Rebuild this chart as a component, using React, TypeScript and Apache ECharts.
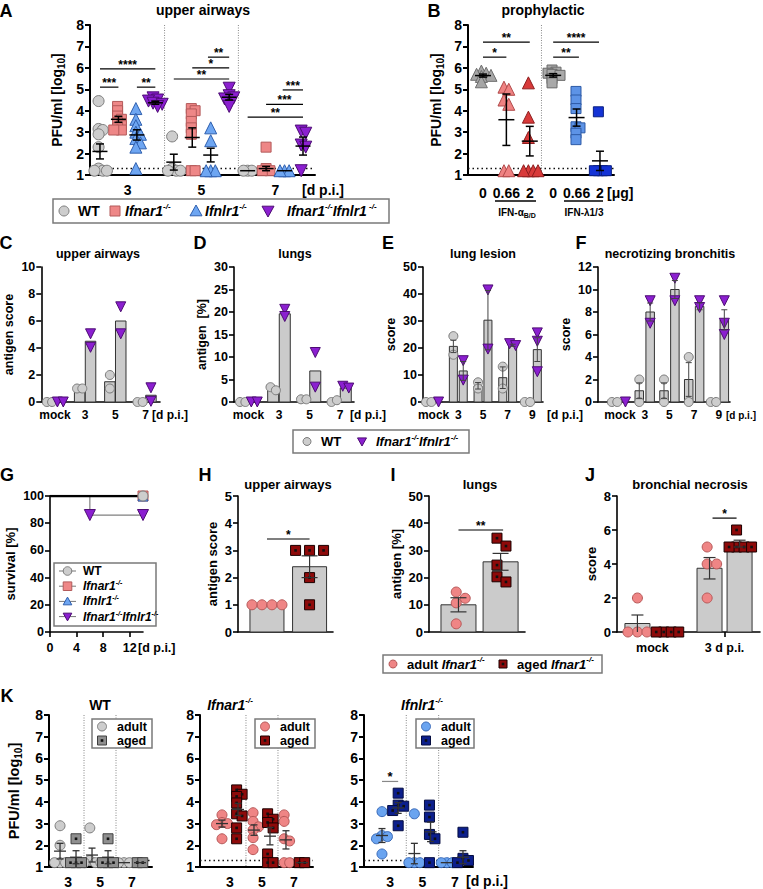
import { useEffect, useRef } from 'react';
import * as echarts from 'echarts';

const FF = '"Liberation Sans", Arial, Helvetica, sans-serif';
const LOD = 1.3;

// ===== A: upper airways =====
const A_DAY_LABELS = ['3', '5', '7'];
const A_WT = [[4.45, 3.15, 3.1, 2.9, 2.3, 1.3, 1.2, 1.2, 1.2], [2.8, 1.3, 1.2, 1.2, 1.2], [1.2, 1.2, 1.2]];
const A_WT_MEAN = [2.1, 1.6, 1.2];
const A_WT_SEM = [0.35, 0.37, 0];
const A_IFNAR = [[4.2, 4.0, 3.75, 3.6, 3.45, 3.3, 3.2, 3.1, 3.1], [4.1, 4.0, 3.85, 3.5, 3.2, 2.9, 1.2, 1.2], [2.3, 1.3, 1.2, 1.2]];
const A_IFNAR_MEAN = [3.6, 2.75, 1.3];
const A_IFNAR_SEM = [0.14, 0.45, 0.1];
const A_IFNLR = [[4.1, 3.6, 3.3, 3.0, 2.9, 2.7, 2.5, 2.3, 1.3], [3.2, 2.6, 1.2, 1.2, 1.2], [1.2, 1.2, 1.2]];
const A_IFNLR_MEAN = [2.87, 1.93, 1.2];
const A_IFNLR_SEM = [0.24, 0.32, 0];
const A_DKO = [[4.6, 4.5, 4.45, 4.35, 4.3, 4.2], [5.05, 4.7, 4.6, 4.55, 4.2], [3.05, 2.95, 2.4, 2.3, 1.2]];
const A_DKO_MEAN = [4.37, 4.63, 2.35];
const A_DKO_SEM = [0.07, 0.13, 0.42];
const A_SIG_LABELS = ['****', '***', '**', '**', '*', '**', '**', '***', '***'];
const A_SIG_FROM = [0, 0, 2, 4, 5, 5.85, 8, 9, 9.9];
const A_SIG_TO = [3, 1, 3, 7, 7, 7, 11, 11, 11];
const A_SIG_Y = [5.95, 5.1, 5.1, 5.48, 6.0, 6.5, 3.7, 4.3, 4.97];

// ===== B: prophylactic =====
const B_LABELS = ['0', '0.66', '2', '0', '0.66', '2'];
const B_VALUES = [
  [5.85, 5.75, 5.7, 5.65, 5.6, 5.35],
  [5.1, 5.0, 4.5, 4.3, 1.2, 1.2],
  [5.3, 3.7, 2.75, 1.2, 1.2, 1.2, 1.2],
  [5.9, 5.8, 5.75, 5.7, 5.65, 5.5, 5.3],
  [4.9, 4.5, 4.1, 3.25, 3.2, 2.95, 2.65],
  [3.95, 1.2, 1.2, 1.2, 1.2],
];
const B_MEAN = [5.64, 3.58, 2.58, 5.65, 3.68, 1.66];
const B_SEM = [0.07, 1.2, 0.69, 0.08, 0.4, 0.45];
const B_SIG_LABELS = ['**', '*', '****', '**'];
const B_SIG_FROM = [0, 0, 3, 3];
const B_SIG_TO = [2, 1, 4.96, 4.1];
const B_SIG_Y = [7.2, 6.5, 7.2, 6.5];

// ===== C-F histology =====
const CD_LABELS = ['mock', '3', '5', '7'];
const EF_LABELS = ['mock', '3', '5', '7', '9'];
const C_WT = [[0, 0], [1, 1], [2, 1], [0, 0]];
const C_WT_BAR = [0, 1, 1.5, 0];
const C_DKO = [[0, 0], [5.05, 4.05], [7.05, 5.05], [1.05, 0.05]];
const C_DKO_BAR = [0, 4.5, 6, 0.5];
const D_WT = [[0, 0], [3.3, 2.6], [0.6, 0.6], [0, 0.4]];
const D_WT_BAR = [0, 2.9, 0.6, 0.2];
const D_DKO = [[0, 0], [20.6, 19], [11, 3.3], [3.5, 3.1]];
const D_DKO_BAR = [0, 19.6, 6.9, 3.1];
const E_WT = [[0, 0], [24.4, 17.5], [7.3, 5], [13.1, 5], [0, 0]];
const E_WT_BAR = [0, 20.6, 6, 9, 0];
const E_WT_SEM = [0, 2.3, 1.2, 4, 0];
const E_DKO = [[0], [15.3, 8.1], [41.5, 19.6], [21.6, 20.9], [25.6, 22.5, 11.2]];
const E_DKO_BAR = [0, 11.5, 30.3, 21, 19.4];
const E_DKO_SEM = [0, 3.5, 11, 0.4, 4.4];
const F_WT = [[0, 0], [2, 0], [2, 0], [4, 0], [0, 0]];
const F_WT_BAR = [0, 1, 1, 2, 0];
const F_WT_SEM = [0, 0.7, 0.7, 1.5, 0];
const F_DKO = [[0], [9, 7], [11, 9], [9, 8.4], [9, 7, 6]];
const F_DKO_BAR = [0, 8, 10, 8.5, 7.3];
const F_DKO_SEM = [0, 0.8, 0.8, 0.3, 0.9];

// ===== G survival =====
const G_WT = [[0, 100], [14, 100]];
const G_DKO = [[0, 100], [6, 86], [14, 86]];
const G_DKO_MARKS = [[6, 86], [14, 86]];
const G_END = [[14, 100]];

// ===== H-J aged =====
const H_ADULT = [1, 1, 1, 1];
const H_AGED = [3, 3, 3, 2, 1];
const H_BAR = [1, 2.4];
const H_SEM = [0, 0.4];
const I_ADULT = [14.7, 12.4, 10.7, 3];
const I_AGED = [34.5, 31.6, 24.6, 20.3, 18.4];
const I_BAR = [10, 25.8];
const I_SEM = [2.6, 3.1];
const J_LABELS = ['mock', '3 d p.i.'];
const J_ADULT = [[2, 0, 0, 0], [5, 4, 4, 2]];
const J_AGED = [[0, 0, 0, 0], [6, 5, 5, 5, 5]];
const J_ADULT_BAR = [0.5, 3.75];
const J_ADULT_SEM = [0.5, 0.63];
const J_AGED_BAR = [0, 5.2];
const J_AGED_SEM = [0, 0.2];

// ===== K =====
const K_DAY_LABELS = ['3', '5', '7'];
const K_WT_ADULT = [[2.9, 2.0, 1.2, 1.2, 1.2], [2.8, 1.3, 1.2, 1.2, 1.2], [1.2, 1.2, 1.2]];
const K_WT_ADULT_MEAN = [1.73, 1.55, 1.2];
const K_WT_ADULT_SEM = [0.36, 0.32, 0];
const K_WT_AGED = [[2.3, 1.2, 1.2, 1.2], [2.3, 1.2, 1.2, 1.2], [1.2, 1.2]];
const K_WT_AGED_MEAN = [1.45, 1.45, 1.2];
const K_WT_AGED_SEM = [0.3, 0.3, 0];
const K_IFNAR_ADULT = [[3.4, 3.05, 3.0, 2.95, 2.3], [3.5, 3.1, 2.85, 2.7, 2.35, 1.8], [3.4, 3.1, 2.3, 2.2, 1.2, 1.2]];
const K_IFNAR_ADULT_MEAN = [3.0, 2.7, 2.25];
const K_IFNAR_ADULT_SEM = [0.16, 0.24, 0.42];
const K_IFNAR_AGED = [[4.55, 4.35, 4.25, 3.95, 3.45, 3.35, 2.8, 2.3], [3.45, 3.2, 3.05, 2.8, 1.6, 1.2, 1.2], [1.2, 1.2]];
const K_IFNAR_AGED_MEAN = [3.65, 2.42, 1.2];
const K_IFNAR_AGED_SEM = [0.28, 0.4, 0];
const K_IFNLR_ADULT = [[3.55, 2.45, 2.4, 2.3, 1.6], [3.45, 1.2, 1.2, 1.2], [1.2, 1.2, 1.2]];
const K_IFNLR_ADULT_MEAN = [2.45, 1.62, 1.2];
const K_IFNLR_ADULT_SEM = [0.32, 0.47, 0];
const K_IFNLR_AGED = [[4.4, 3.85, 3.8, 3.6, 2.9], [3.85, 3.3, 2.5, 2.3, 1.2], [2.6, 1.4, 1.3, 1.2]];
const K_IFNLR_AGED_MEAN = [3.72, 2.62, 1.45];
const K_IFNLR_AGED_SEM = [0.25, 0.45, 0.3];
const K_SIG_LABELS = ['*'];
const K_SIG_FROM = [0];
const K_SIG_TO = [1];
const K_SIG_Y = [4.94];

// ===== styles =====
const S_WT = { symbol: 'circle', fill: '#cdcdcd', stroke: '#7c7c7c' };
const S_IFNAR = { symbol: 'rect', fill: '#ee8787', stroke: '#b35a5a' };
const S_IFNLR = { symbol: 'triangle', fill: '#6ea6f2', stroke: '#2f5fae' };
const S_DKO = { symbol: 'triangle', rot: 180, fill: '#8b1fd0', stroke: '#4d0c73' };
const B_STYLES = [
  { symbol: 'triangle', fill: '#a6a6a6', stroke: '#6e6e6e' },
  { symbol: 'triangle', fill: '#ef8282', stroke: '#b04848' },
  { symbol: 'triangle', fill: '#d83a3a', stroke: '#8e1e1e' },
  { symbol: 'rect', fill: '#a9a9a9', stroke: '#6a6a6a' },
  { symbol: 'rect', fill: '#5d93e6', stroke: '#2d5aa6' },
  { symbol: 'rect', fill: '#1433d6', stroke: '#0a1f80' },
];
const S_ADULT = { symbol: 'circle', fill: '#ef8585', stroke: '#b65858' };
const S_AGED = { symbol: 'rect', fill: '#8e0a0a', stroke: '#1a0000', dot: true };
const S_KWT_AGED = { symbol: 'rect', fill: '#8f8f8f', stroke: '#404040', dot: true };
const S_KLR_ADULT = { symbol: 'circle', fill: '#6aa4f0', stroke: '#3a6ab8' };
const S_KLR_AGED = { symbol: 'rect', fill: '#0c1f8c', stroke: '#050d40', dot: true };

function buildOption() {
  const grid: any[] = [];
  const xAxis: any[] = [];
  const yAxis: any[] = [];
  const series: any[] = [];
  const graphic: any[] = [];

  const richSet = (fs: number, lh?: number) => ({
    g: { fontStyle: 'italic', fontWeight: 'bold', fontSize: fs, fontFamily: FF, fill: '#000', color: '#000', lineHeight: lh || fs + 4 },
    s: { fontStyle: 'italic', fontWeight: 'bold', fontSize: Math.round(fs * 0.6), fontFamily: FF, fill: '#000', color: '#000', verticalAlign: 'top', lineHeight: Math.round(fs * 0.6) + 1 },
    n: { fontWeight: 'bold', fontSize: fs, fontFamily: FF, fill: '#000', color: '#000', lineHeight: lh || fs + 4 },
    sub: { fontWeight: 'bold', fontSize: Math.round(fs * 0.68), fontFamily: FF, fill: '#000', color: '#000', verticalAlign: 'bottom', lineHeight: Math.round(fs * 0.68) },
  });

  const txt = (x: number, y: number, text: string, fs: number, align = 'left', lh?: number) => ({
    type: 'text', x, y, silent: true, z: 50,
    style: { text, fontSize: fs, fontWeight: 'bold', fontFamily: FF, fill: '#000', align, verticalAlign: 'middle', lineHeight: lh || fs + 4, rich: richSet(fs, lh) },
  });

  function addPanel(o: any) {
    const i = grid.length;
    const [left, top, width, height] = o.box;
    grid.push({ left, top, width, height, containLabel: false });
    const line = { show: true, onZero: false, lineStyle: { color: '#000', width: o.lw } };
    const xa: any = {
      type: 'value', gridIndex: i, min: o.xmin, max: o.xmax, axisLine: line, splitLine: { show: false },
      axisLabel: { show: !o.noXLabels, color: '#000', fontFamily: FF, fontWeight: 'bold', fontSize: o.xfs || 12, margin: o.xmargin || 8 },
      axisTick: { show: false },
    };
    if (o.xvals) {
      const vals = o.xvals;
      const labs = o.xlabels;
      xa.axisLabel.customValues = vals;
      xa.axisLabel.formatter = (v: number) => {
        const k = vals.findIndex((w: number) => Math.abs(w - v) < 1e-6);
        return k >= 0 ? labs[k] : '';
      };
      if (o.xticks) xa.axisTick = { show: true, customValues: o.xticks, length: 5, lineStyle: { color: '#000', width: o.lw } };
    } else if (o.xint) {
      xa.interval = o.xint;
      xa.axisTick = { show: true, length: 5, lineStyle: { color: '#000', width: o.lw } };
    } else {
      xa.axisLabel.show = false;
    }
    xAxis.push(xa);
    const nfs = o.nameFs || 13;
    yAxis.push({
      type: 'value', gridIndex: i, min: o.ymin, max: o.ymax, interval: o.yint, axisLine: line, splitLine: { show: false },
      axisTick: { show: true, length: 5, lineStyle: { color: '#000', width: o.lw } },
      axisLabel: { color: '#000', fontFamily: FF, fontWeight: 'bold', fontSize: o.yfs, margin: 6 },
      name: o.name || '', nameLocation: 'middle', nameRotate: 90, nameGap: o.nameGap || 20,
      nameTextStyle: { color: '#000', fontFamily: FF, fontWeight: 'bold', fontSize: nfs, lineHeight: nfs + 4, rich: richSet(nfs) },
    });
    return { i, ux: width / (o.xmax - o.xmin), uy: height / (o.ymax - o.ymin), ymin: o.ymin };
  }

  function swarm(vals: number[], center: number, p: any, size: number, spread: number) {
    const step = size * spread;
    const placed: number[][] = [];
    vals.forEach((v) => {
      const yp = v * p.uy;
      let off = 0;
      for (let k = 0; k < 40; k++) {
        const o = k === 0 ? 0 : (k % 2 === 1 ? 1 : -1) * Math.ceil(k / 2) * step;
        if (placed.every(([px, py]) => Math.hypot(px - o, py - yp) >= step - 0.01)) { off = o; break; }
      }
      placed.push([off, yp]);
    });
    const mean = placed.reduce((a, b) => a + b[0], 0) / Math.max(1, placed.length);
    return placed.map(([o], k) => [center + (o - mean) / p.ux, vals[k]]);
  }

  function scat(p: any, pts: any[], st: any, size: number) {
    series.push({
      type: 'scatter', xAxisIndex: p.i, yAxisIndex: p.i, data: pts, symbol: st.symbol, symbolSize: size,
      symbolRotate: st.rot || 0, silent: true, z: 3,
      itemStyle: { color: st.fill, borderColor: st.stroke, borderWidth: 1, opacity: 1 },
    });
    if (st.dot) {
      series.push({
        type: 'scatter', xAxisIndex: p.i, yAxisIndex: p.i, data: pts, symbol: 'rect', symbolSize: 2.6, silent: true, z: 4,
        itemStyle: { color: '#111', opacity: 1 },
      });
    }
  }

  function errs(p: any, data: any[], mw: number, cw: number, col: string, lw: number) {
    series.push({
      type: 'custom', xAxisIndex: p.i, yAxisIndex: p.i, z: 6, silent: true, data,
      renderItem: (_params: any, api: any) => {
        const x = api.value(0), m = api.value(1), s = api.value(2);
        const c = api.coord([x, m]);
        const st = { stroke: col, lineWidth: lw };
        const ch: any[] = [];
        if (mw > 0) ch.push({ type: 'line', shape: { x1: c[0] - mw / 2, y1: c[1], x2: c[0] + mw / 2, y2: c[1] }, style: st });
        if (s > 0) {
          const t = api.coord([x, m + s]);
          const lo = Math.max(m - s, p.ymin);
          const b = api.coord([x, lo]);
          ch.push({ type: 'line', shape: { x1: c[0], y1: t[1], x2: c[0], y2: b[1] }, style: st });
          ch.push({ type: 'line', shape: { x1: c[0] - cw / 2, y1: t[1], x2: c[0] + cw / 2, y2: t[1] }, style: st });
          if (m - s > p.ymin + 0.01) ch.push({ type: 'line', shape: { x1: c[0] - cw / 2, y1: b[1], x2: c[0] + cw / 2, y2: b[1] }, style: st });
        }
        return { type: 'group', children: ch };
      },
    });
  }

  function bars(p: any, data: any[], w: number) {
    series.push({
      type: 'custom', xAxisIndex: p.i, yAxisIndex: p.i, z: 2, silent: true, data,
      renderItem: (_params: any, api: any) => {
        const x = api.value(0), v = api.value(1);
        const t = api.coord([x, v]);
        const b = api.coord([x, p.ymin]);
        return { type: 'rect', shape: { x: t[0] - w / 2, y: t[1], width: w, height: b[1] - t[1] }, style: { fill: '#cbcbcb', stroke: '#333', lineWidth: 1 } };
      },
    });
  }

  function sigs(p: any, from: number[], to: number[], ys: number[], labels: string[], fs: number, col = '#000') {
    const data = from.map((f, k) => [f, ys[k], to[k]]);
    series.push({
      type: 'custom', xAxisIndex: p.i, yAxisIndex: p.i, z: 7, silent: true, data,
      renderItem: (params: any, api: any) => {
        const a = api.coord([api.value(0), api.value(1)]);
        const b = api.coord([api.value(2), api.value(1)]);
        return {
          type: 'group', children: [
            { type: 'line', shape: { x1: a[0], y1: a[1], x2: b[0], y2: b[1] }, style: { stroke: col, lineWidth: 1.2 } },
            { type: 'text', style: { text: labels[params.dataIndex], x: (a[0] + b[0]) / 2, y: a[1] + 2, align: 'center', verticalAlign: 'bottom', fontSize: fs, fontWeight: 'bold', fontFamily: FF, fill: '#000' } },
          ],
        };
      },
    });
  }

  function refs(p: any, hs: number[], vs: number[], xmid: number, ymid: number) {
    const data = [...hs.map((v) => [xmid, v, 0]), ...vs.map((v) => [v, ymid, 1])];
    series.push({
      type: 'custom', xAxisIndex: p.i, yAxisIndex: p.i, z: 1, silent: true, data,
      renderItem: (params: any, api: any) => {
        const cs = params.coordSys;
        const c = api.coord([api.value(0), api.value(1)]);
        if (api.value(2) === 0) {
          return { type: 'line', shape: { x1: cs.x, y1: c[1], x2: cs.x + cs.width, y2: c[1] }, style: { stroke: '#111', lineWidth: 1.5, lineDash: [1.5, 3] } };
        }
        return { type: 'line', shape: { x1: c[0], y1: cs.y, x2: c[0], y2: cs.y + cs.height }, style: { stroke: '#888', lineWidth: 1, lineDash: [1, 1.5] } };
      },
    });
  }

  function lsym(kind: string, cx: number, cy: number, r: number, fill: string, stroke: string, dot = false) {
    const style = { fill, stroke, lineWidth: 1 };
    const out: any[] = [];
    if (kind === 'circle') out.push({ type: 'circle', shape: { cx, cy, r }, style });
    else if (kind === 'rect') out.push({ type: 'rect', shape: { x: cx - r, y: cy - r, width: 2 * r, height: 2 * r }, style });
    else if (kind === 'triangle') out.push({ type: 'polygon', shape: { points: [[cx, cy - r], [cx + r, cy + r * 0.8], [cx - r, cy + r * 0.8]] }, style });
    else out.push({ type: 'polygon', shape: { points: [[cx - r, cy - r * 0.8], [cx + r, cy - r * 0.8], [cx, cy + r]] }, style });
    if (dot) out.push({ type: 'rect', shape: { x: cx - 1.3, y: cy - 1.3, width: 2.6, height: 2.6 }, style: { fill: '#111' } });
    out.forEach((e) => { e.z = 51; e.silent = true; });
    return out;
  }
  const box = (x: number, y: number, w: number, h: number) => ({ type: 'rect', z: 49, silent: true, shape: { x, y, width: w, height: h }, style: { fill: '#fff', stroke: '#7a7a7a', lineWidth: 1.5 } });
  const symOf = (st: any) => (st.rot ? 'dtri' : st.symbol);

  // ================= Panel A =================
  const pA = addPanel({ box: [90, 25, 225, 150], xmin: -0.54, xmax: 11.65, xvals: [1.5, 5.5, 9.5], xlabels: A_DAY_LABELS, xfs: 14, xmargin: 8, ymin: 1, ymax: 8, yint: 1, yfs: 14, name: 'PFU/ml [log{sub|10}]', nameGap: 24, nameFs: 14, lw: 2 });
  refs(pA, [LOD], [3.5, 7.5], 5, 4.5);
  const aSets: any[] = [
    [A_WT, A_WT_MEAN, A_WT_SEM, S_WT, 11],
    [A_IFNAR, A_IFNAR_MEAN, A_IFNAR_SEM, S_IFNAR, 10],
    [A_IFNLR, A_IFNLR_MEAN, A_IFNLR_SEM, S_IFNLR, 12],
    [A_DKO, A_DKO_MEAN, A_DKO_SEM, S_DKO, 12],
  ];
  aSets.forEach(([vals, mean, sem, st, sz], s) => {
    const pts: any[] = [];
    const eb: any[] = [];
    vals.forEach((v: number[], d: number) => {
      const cx = d * 4 + s;
      pts.push(...swarm(v, cx, pA, sz, 0.38));
      eb.push([cx, mean[d], sem[d]]);
    });
    scat(pA, pts, st, sz);
    errs(pA, eb, 15, 8, '#000', 1.5);
  });
  sigs(pA, A_SIG_FROM, A_SIG_TO, A_SIG_Y, A_SIG_LABELS, 12);
  graphic.push(txt(6, 11, 'A', 18, 'center'));
  graphic.push(txt(203, 10, 'upper airways', 14, 'center'));
  graphic.push(txt(302, 190, '[d p.i.]', 14));
  graphic.push(box(53, 199, 336, 24));
  graphic.push(...lsym('circle', 64, 211, 5, S_WT.fill, S_WT.stroke));
  graphic.push(txt(78, 211, 'WT', 14));
  graphic.push(...lsym('rect', 115, 211, 5, S_IFNAR.fill, S_IFNAR.stroke));
  graphic.push(txt(125, 211, '{g|Ifnar1}{s|-/-}', 14));
  graphic.push(...lsym('triangle', 196, 211, 6, S_IFNLR.fill, S_IFNLR.stroke));
  graphic.push(txt(205, 211, '{g|Ifnlr1}{s|-/-}', 14));
  graphic.push(...lsym('dtri', 268, 211, 6, S_DKO.fill, S_DKO.stroke));
  graphic.push(txt(287, 211, '{g|Ifnar1}{s|-/-}{g|Ifnlr1}{s| -/-}', 14));

  // ================= Panel B =================
  const pB = addPanel({ box: [468, 25, 146, 150], xmin: -0.64, xmax: 5.6, xvals: [0, 1, 2, 3, 4, 5], xlabels: B_LABELS, xfs: 14, xmargin: 11, ymin: 1, ymax: 8, yint: 1, yfs: 14, name: 'PFU/ml [log{sub|10}]', nameGap: 23, nameFs: 14, lw: 2 });
  refs(pB, [LOD], [2.5], 2.5, 4.5);
  B_VALUES.forEach((vals, k) => {
    const st = B_STYLES[k];
    const sz = st.symbol === 'rect' ? 10 : 12;
    scat(pB, swarm(vals, k, pB, sz, 0.4), st, sz);
  });
  errs(pB, B_MEAN.map((m, k) => [k, m, B_SEM[k]]), 16, 8, '#000', 1.5);
  sigs(pB, B_SIG_FROM, B_SIG_TO, B_SIG_Y, B_SIG_LABELS, 12);
  graphic.push(txt(434, 11, 'B', 18, 'center'));
  graphic.push(txt(543, 10, 'prophylactic', 14, 'center'));
  graphic.push(txt(607, 193, '[μg]', 14));
  graphic.push({ type: 'line', z: 50, silent: true, shape: { x1: 495, y1: 201, x2: 536, y2: 201 }, style: { stroke: '#000', lineWidth: 1.3 } });
  graphic.push({ type: 'line', z: 50, silent: true, shape: { x1: 564, y1: 201, x2: 603, y2: 201 }, style: { stroke: '#000', lineWidth: 1.3 } });
  graphic.push(txt(517, 212, 'IFN-α{sub|B/D}', 10, 'center'));
  graphic.push(txt(584, 212, 'IFN-λ1/3', 10, 'center'));

  // ================= Panels C-F =================
  function histPanel(p: any, wt: number[][], wtBar: number[], wtSem: number[] | null, dko: number[][], dkoBar: number[], dkoSem: number[] | null, off: number, bw: number) {
    const bd: any[] = [];
    wtBar.forEach((v, d) => bd.push([d - off, v]));
    dkoBar.forEach((v, d) => bd.push([d + off, v]));
    bars(p, bd, bw);
    const wp: any[] = [];
    const dp: any[] = [];
    wt.forEach((v, d) => wp.push(...swarm(v, d - off, p, 9, 0.6)));
    dko.forEach((v, d) => dp.push(...swarm(v, d + off, p, 10, 0.6)));
    scat(p, wp, S_WT, 9);
    scat(p, dp, S_DKO, 10);
    if (wtSem) errs(p, wtBar.map((m, d) => [d - off, m, wtSem[d]]), 0, 6, '#444', 1);
    if (dkoSem) errs(p, dkoBar.map((m, d) => [d + off, m, dkoSem[d]]), 0, 6, '#444', 1);
  }
  const pC = addPanel({ box: [38, 267, 122, 135], xmin: -0.45, xmax: 3.48, xvals: [0, 1, 2, 3], xlabels: CD_LABELS, xfs: 12, xmargin: 7, ymin: 0, ymax: 10, yint: 2, yfs: 12.5, name: 'antigen score', nameGap: 23, nameFs: 12.5, lw: 1.6 });
  histPanel(pC, C_WT, C_WT_BAR, null, C_DKO, C_DKO_BAR, null, 0.18, 10.5);
  const pD = addPanel({ box: [234, 267, 120, 135], xmin: -0.475, xmax: 3.46, xvals: [0, 1, 2, 3], xlabels: CD_LABELS, xfs: 12, xmargin: 7, ymin: 0, ymax: 30, yint: 5, yfs: 12.5, name: 'antigen  [%]', nameGap: 21, nameFs: 12.5, lw: 1.6 });
  histPanel(pD, D_WT, D_WT_BAR, null, D_DKO, D_DKO_BAR, null, 0.19, 11);
  const pE = addPanel({ box: [423, 267, 120, 135], xmin: -0.43, xmax: 4.43, xvals: [0, 1, 2, 3, 4], xlabels: EF_LABELS, xfs: 12, xmargin: 7, ymin: 0, ymax: 50, yint: 10, yfs: 12.5, name: 'score', nameGap: 23, nameFs: 12.5, lw: 1.6 });
  histPanel(pE, E_WT, E_WT_BAR, E_WT_SEM, E_DKO, E_DKO_BAR, E_DKO_SEM, 0.2, 8);
  const pF = addPanel({ box: [598, 267, 132, 135], xmin: -0.89, xmax: 4.45, xvals: [0, 1, 2, 3, 4], xlabels: EF_LABELS, xfs: 12, xmargin: 7, ymin: 0, ymax: 12, yint: 2, yfs: 12.5, name: 'score', nameGap: 14, nameFs: 12.5, lw: 1.6 });
  histPanel(pF, F_WT, F_WT_BAR, F_WT_SEM, F_DKO, F_DKO_BAR, F_DKO_SEM, 0.22, 8.5);

  graphic.push(txt(6, 243, 'C', 18, 'center'));
  graphic.push(txt(98, 254, 'upper airways', 12.5, 'center'));
  graphic.push(txt(152, 415, '[d p.i.]', 12));
  graphic.push(txt(200, 243, 'D', 18, 'center'));
  graphic.push(txt(295, 254, 'lungs', 12.5, 'center'));
  graphic.push(txt(350, 415, '[d p.i.]', 12));
  graphic.push(txt(388, 243, 'E', 18, 'center'));
  graphic.push(txt(483, 254, 'lung lesion', 12.5, 'center'));
  graphic.push(txt(547, 415, '[d p.i.]', 12));
  graphic.push(txt(581, 243, 'F', 18, 'center'));
  graphic.push(txt(670, 254, 'necrotizing bronchitis', 12.5, 'center'));
  graphic.push(txt(726, 415, '[d p.i.]', 10));
  graphic.push(box(293, 430, 176, 23));
  graphic.push(...lsym('circle', 307, 441.5, 4, S_WT.fill, S_WT.stroke));
  graphic.push(txt(321, 441.5, 'WT', 13));
  graphic.push(...lsym('dtri', 362, 441.5, 4.5, S_DKO.fill, S_DKO.stroke));
  graphic.push(txt(376, 441.5, '{g|Ifnar1}{s|-/-}{g|Ifnlr1}{s|-/-}', 13));

  // ================= Panel G =================
  const pG = addPanel({ box: [50, 496, 93, 136], xmin: 0, xmax: 14, xint: 4, xfs: 12.5, xmargin: 9, ymin: 0, ymax: 100, yint: 20, yfs: 12.5, name: 'survival [%]', nameGap: 31, nameFs: 13, lw: 1.6 });
  series.push({ type: 'line', xAxisIndex: pG.i, yAxisIndex: pG.i, data: G_DKO, step: 'end', symbol: 'none', silent: true, z: 2, lineStyle: { color: '#808080', width: 1.2 } });
  series.push({ type: 'line', xAxisIndex: pG.i, yAxisIndex: pG.i, data: G_WT, symbol: 'none', silent: true, z: 3, lineStyle: { color: '#000', width: 2.5 } });
  scat(pG, G_END, S_IFNAR, 10);
  scat(pG, G_END, S_IFNLR, 10);
  scat(pG, G_END, S_WT, 10);
  scat(pG, G_DKO_MARKS, S_DKO, 11);
  graphic.push(txt(7, 475, 'G', 18, 'center'));
  graphic.push(box(54, 563, 102, 63));
  const gRows: any[] = [[S_WT, 'WT'], [S_IFNAR, '{g|Ifnar1}{s|-/-}'], [S_IFNLR, '{g|Ifnlr1}{s|-/-}'], [S_DKO, '{g|Ifnar1}{s|-/-}{g|Ifnlr1}{s|-/-}']];
  gRows.forEach(([st, label], k) => {
    const y = 571 + k * 15.2;
    graphic.push({ type: 'line', z: 50, silent: true, shape: { x1: 59, y1: y, x2: 76, y2: y }, style: { stroke: '#777', lineWidth: 1 } });
    graphic.push(...lsym(symOf(st), 67.5, y, 4.3, st.fill, st.stroke));
    graphic.push(txt(83, y, label, 12, 'left', 14));
  });
  graphic.push(txt(138, 648, '[d p.i.]', 12.5));

  // ================= Panel H =================
  const pH = addPanel({ box: [238, 496, 95, 136], xmin: -0.68, xmax: 1.55, noXLabels: true, ymin: 0, ymax: 5, yint: 1, yfs: 13, name: 'antigen score', nameGap: 13, nameFs: 13, lw: 1.6 });
  bars(pH, H_BAR.map((v, k) => [k, v]), 34);
  scat(pH, swarm(H_ADULT, 0, pH, 10, 1.0), S_ADULT, 10);
  scat(pH, swarm(H_AGED, 1, pH, 10, 1.4), S_AGED, 10);
  errs(pH, H_BAR.map((m, k) => [k, m, H_SEM[k]]), 0, 16, '#333', 1.2);
  sigs(pH, [0], [1], [3.42], ['*'], 12);
  graphic.push(txt(205, 475, 'H', 18, 'center'));
  graphic.push(txt(288, 484, 'upper airways', 13, 'center'));

  // ================= Panel I =================
  const pI = addPanel({ box: [429, 496, 96, 136], xmin: -0.7, xmax: 1.58, noXLabels: true, ymin: 0, ymax: 50, yint: 10, yfs: 13, name: 'antigen [%]', nameGap: 19, nameFs: 13, lw: 1.6 });
  bars(pI, I_BAR.map((v, k) => [k, v]), 35);
  scat(pI, swarm(I_ADULT, 0, pI, 10, 0.9), S_ADULT, 10);
  scat(pI, swarm(I_AGED, 1, pI, 10, 0.9), S_AGED, 10);
  errs(pI, I_BAR.map((m, k) => [k, m, I_SEM[k]]), 0, 16, '#333', 1.2);
  sigs(pI, [0], [1.06], [37.5], ['**'], 12);
  graphic.push(txt(393, 475, 'I', 18, 'center'));
  graphic.push(txt(480, 484, 'lungs', 13, 'center'));

  // ================= Panel J =================
  const pJ = addPanel({ box: [617, 496, 143, 136], xmin: -1.18, xmax: 3.58, xvals: [0, 2.4], xlabels: J_LABELS, xticks: [0, 2.4], xfs: 12.5, xmargin: 9, ymin: 0, ymax: 8, yint: 2, yfs: 13, name: 'score', nameGap: 15, nameFs: 13, lw: 1.6 });
  const jCenters = [0, 2.4];
  const jb: any[] = [];
  J_ADULT_BAR.forEach((v, g) => jb.push([jCenters[g] - 0.5, v]));
  J_AGED_BAR.forEach((v, g) => jb.push([jCenters[g] + 0.5, v]));
  bars(pJ, jb, 25);
  const ja: any[] = [];
  const jg: any[] = [];
  J_ADULT.forEach((v, g) => ja.push(...swarm(v, jCenters[g] - 0.5, pJ, 10, 0.95)));
  J_AGED.forEach((v, g) => jg.push(...swarm(v, jCenters[g] + 0.5, pJ, 10, 0.75)));
  scat(pJ, ja, S_ADULT, 10);
  scat(pJ, jg, S_AGED, 10);
  errs(pJ, J_ADULT_BAR.map((m, g) => [jCenters[g] - 0.5, m, J_ADULT_SEM[g]]), 0, 12, '#333', 1.2);
  errs(pJ, J_AGED_BAR.map((m, g) => [jCenters[g] + 0.5, m, J_AGED_SEM[g]]), 0, 12, '#333', 1.2);
  sigs(pJ, [2.0], [2.8], [6.7], ['*'], 12);
  graphic.push(txt(590, 475, 'J', 18, 'center'));
  graphic.push(txt(690, 484, 'bronchial necrosis', 13, 'center'));

  graphic.push(box(383, 655, 219, 18));
  graphic.push(...lsym('circle', 393, 664, 4, S_ADULT.fill, S_ADULT.stroke));
  graphic.push(txt(407, 664, 'adult {g|Ifnar1}{s|-/-}', 13));
  graphic.push(...lsym('rect', 503, 664, 4, S_AGED.fill, S_AGED.stroke, true));
  graphic.push(txt(517, 664, 'aged {g|Ifnar1}{s|-/-}', 13));

  // ================= Panel K =================
  const kDefs: any[] = [
    { box: [49, 715, 103, 152], xmin: -0.69, xmax: 5.75, name: 'PFU/ml [log{sub|10}]', adult: K_WT_ADULT, am: K_WT_ADULT_MEAN, as: K_WT_ADULT_SEM, aged: K_WT_AGED, gm: K_WT_AGED_MEAN, gs: K_WT_AGED_SEM, sa: S_WT, sg: S_KWT_AGED, title: 'WT', tx: 100, lg: [92, 152] },
    { box: [200, 715, 113, 152], xmin: -1.375, xmax: 5.69, name: '', adult: K_IFNAR_ADULT, am: K_IFNAR_ADULT_MEAN, as: K_IFNAR_ADULT_SEM, aged: K_IFNAR_AGED, gm: K_IFNAR_AGED_MEAN, gs: K_IFNAR_AGED_SEM, sa: S_ADULT, sg: S_AGED, title: '{g|Ifnar1}{s|-/-}', tx: 230, lg: [255, 315] },
    { box: [364, 715, 109, 152], xmin: -1.11, xmax: 5.62, name: '', adult: K_IFNLR_ADULT, am: K_IFNLR_ADULT_MEAN, as: K_IFNLR_ADULT_SEM, aged: K_IFNLR_AGED, gm: K_IFNLR_AGED_MEAN, gs: K_IFNLR_AGED_SEM, sa: S_KLR_ADULT, sg: S_KLR_AGED, title: '{g|Ifnlr1}{s|-/-}', tx: 422, lg: [416, 474] },
  ];
  kDefs.forEach((k, idx) => {
    const p = addPanel({ box: k.box, xmin: k.xmin, xmax: k.xmax, xvals: [0.5, 2.5, 4.5], xlabels: K_DAY_LABELS, xfs: 14, xmargin: 8, ymin: 1, ymax: 8, yint: 1, yfs: 14, name: k.name, nameGap: 26, nameFs: 14.5, lw: 2 });
    refs(p, [LOD], [1.5, 3.5], 2.5, 4.5);
    const ap: any[] = [];
    const gp: any[] = [];
    k.adult.forEach((v: number[], d: number) => ap.push(...swarm(v, d * 2, p, 10, 0.55)));
    k.aged.forEach((v: number[], d: number) => gp.push(...swarm(v, d * 2 + 1, p, 10, 0.55)));
    scat(p, ap, k.sa, 10);
    scat(p, gp, k.sg, 10);
    errs(p, k.am.map((m: number, d: number) => [d * 2, m, k.as[d]]), 12, 7, '#333', 1.3);
    errs(p, k.gm.map((m: number, d: number) => [d * 2 + 1, m, k.gs[d]]), 12, 7, '#333', 1.3);
    if (idx === 2) sigs(p, K_SIG_FROM, K_SIG_TO, K_SIG_Y, K_SIG_LABELS, 13, '#888');
    graphic.push(txt(k.tx, 705, k.title, 14, 'center'));
    const [l, r] = k.lg;
    graphic.push(box(l, 719, r - l, 29));
    graphic.push(...lsym(k.sa.symbol, l + 10, 726.5, 4.5, k.sa.fill, k.sa.stroke));
    graphic.push(txt(l + 25, 726.5, 'adult', 12.5, 'left', 12));
    graphic.push(...lsym('rect', l + 10, 740.5, 4.5, k.sg.fill, k.sg.stroke, true));
    graphic.push(txt(l + 25, 740.5, 'aged', 12.5, 'left', 12));
  });
  graphic.push(txt(7, 696, 'K', 18, 'center'));
  graphic.push(txt(466, 881, '[d p.i.]', 14));

  return {
    animation: false,
    backgroundColor: '#fff',
    textStyle: { fontFamily: FF },
    grid, xAxis, yAxis, series, graphic,
  };
}

export default function App() {
  const ref = useRef<HTMLDivElement>(null);
  useEffect(() => {
    if (!ref.current) return;
    const chart = echarts.init(ref.current, undefined, { renderer: 'svg' });
    chart.setOption(buildOption() as any);
    return () => chart.dispose();
  }, []);
  return <div ref={ref} style={{ position: 'fixed', left: 0, top: 0, width: 763, height: 889, background: '#fff' }} />;
}
